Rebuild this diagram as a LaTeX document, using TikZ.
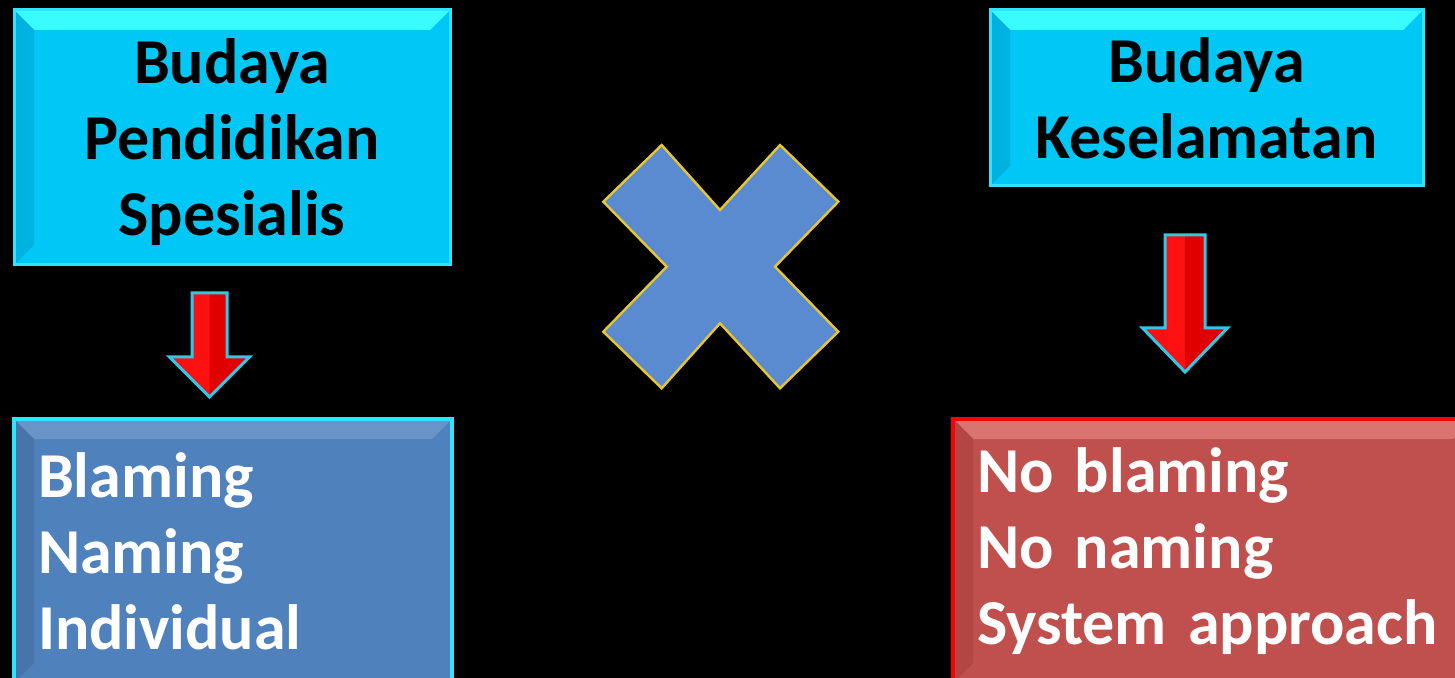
\documentclass[tikz,border=0pt]{standalone}
\usepackage{fontspec}
\setmainfont{Carlito}
\usetikzlibrary{positioning}

\definecolor{boxcyan}{HTML}{00C8F6}
\definecolor{cyanlight}{HTML}{38FCFF}
\definecolor{cyandark}{HTML}{00B2E0}
\definecolor{cyanedge}{HTML}{30E4FF}
\definecolor{boxblue}{HTML}{4F81BD}
\definecolor{boxred}{HTML}{C0504D}
\definecolor{redlight}{HTML}{DA7470}
\definecolor{reddark}{HTML}{B24642}
\definecolor{arrowred}{HTML}{FF1010}
\definecolor{arrowdark}{HTML}{E00000}
\definecolor{arrowedge}{HTML}{30C8E8}
\definecolor{crossblue}{HTML}{5A8BD0}
\definecolor{crossedge}{HTML}{E8C630}

% block arrow: x, top, neck, tip, half shaft, half head
\newcommand{\blockarrow}[6]{%
    \fill[arrowred] (#1-#5,#2) -- (#1+#5,#2) -- (#1+#5,#3) -- (#1+#6,#3) -- (#1,#4) -- (#1-#6,#3) -- (#1-#5,#3) -- cycle;
    \fill[arrowdark] (#1,#2) -- (#1+#5,#2) -- (#1+#5,#3) -- (#1+#6,#3) -- (#1,#4) -- cycle;
    \draw[arrowedge, line width=1.5pt, line join=miter] (#1-#5,#2) -- (#1+#5,#2) -- (#1+#5,#3) -- (#1+#6,#3) -- (#1,#4) -- (#1-#6,#3) -- (#1-#5,#3) -- cycle;
}

\begin{document}
\begin{tikzpicture}[x=0.5pt, y=-0.5pt,
    every node/.style={font=\bfseries\fontsize{32}{38}\selectfont},
    bevel/.style 2 args={path picture={
        \fill[#1] (path picture bounding box.north west) -- (path picture bounding box.north east)
            -- ([xshift=-10pt,yshift=-10pt]path picture bounding box.north east)
            -- ([xshift=10pt,yshift=-10pt]path picture bounding box.north west) -- cycle;
        \fill[#2] (path picture bounding box.north west) -- ([xshift=10pt,yshift=-10pt]path picture bounding box.north west)
            -- ([xshift=10pt,yshift=10pt]path picture bounding box.south west)
            -- (path picture bounding box.south west) -- cycle;
    }},
    topbox/.style={draw=cyanedge, line width=1.5pt, fill=boxcyan, bevel={cyanlight}{cyandark},
        text=black, align=center, inner sep=0pt},
    listbox/.style={line width=2pt, text=white, align=left, inner xsep=12pt, inner ysep=0pt},
]
    \fill[black] (0,0) rectangle (1455,678);
    \useasboundingbox (0,0) rectangle (1455,678);

    \node[topbox, minimum width=218pt, minimum height=127.5pt, text depth=0pt] (spec) at (232,137.5)
        {Budaya\\Pendidikan\\Spesialis};
    \node[topbox, minimum width=216.5pt, minimum height=88pt] (safe) at (1206.5,98)
        {Budaya\\Keselamatan};

    \node[listbox, draw=cyanedge, fill=boxblue, bevel={boxblue!85!white}{boxblue!90!black},
        text width=195pt, minimum height=132pt] (blame) at (233,551)
        {Blaming\\Naming\\Individual};
    \node[listbox, draw=red, fill=boxred, bevel={redlight}{reddark},
        text width=236pt, minimum height=132pt] (noblame) at (1213,551)
        {No blaming\\No naming\\System approach};

    % arrows
    \blockarrow{209.5}{293}{357}{397}{17.5}{40}
    \blockarrow{1185}{235}{328}{372}{20}{42.5}

    % the cross
    \draw[fill=crossblue, draw=crossedge, line width=1.2pt, line join=miter]
        (661.7,145) -- (720,210) -- (780,145) -- (838.3,201.7) -- (775,266.7) -- (838.3,331.7)
        -- (780,388.3) -- (720,323.3) -- (661.7,388.3) -- (603.3,331.7) -- (666.7,266.7)
        -- (603.3,201.7) -- cycle;
\end{tikzpicture}
\end{document}
